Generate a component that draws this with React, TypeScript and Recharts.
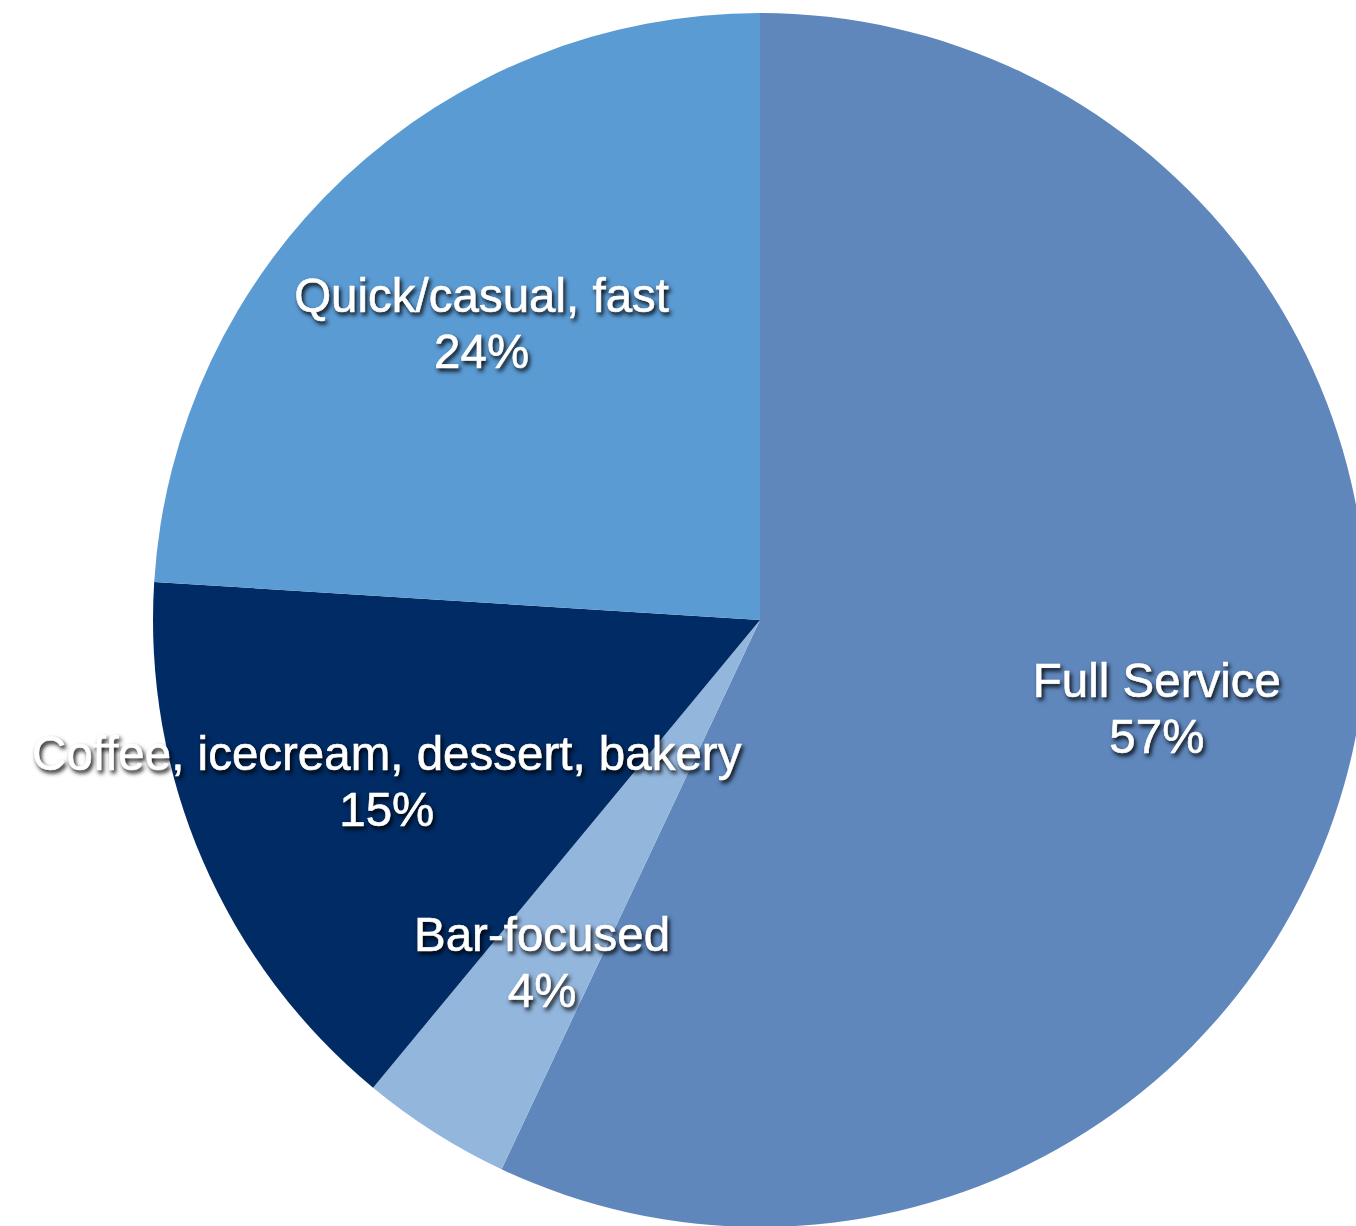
import { PieChart, Pie, Cell } from 'recharts'

const categories = ['Full Service', 'Bar-focused', 'Coffee, icecream, dessert, bakery', 'Quick/casual, fast']
const shares = [57, 4, 15, 24]
const colors = ['#5f87bc', '#93b6dd', '#002b64', '#5b9bd3']

const data = categories.map((name, i) => ({ name, value: shares[i] }))

const RADIAN = Math.PI / 180

function renderLabel(props: any) {
  const { cx, cy, midAngle, outerRadius, name, value } = props
  const r = outerRadius * 0.67
  const x = cx + r * Math.cos(-midAngle * RADIAN)
  const y = cy + r * Math.sin(-midAngle * RADIAN)
  const textStyle = {
    fontFamily: '"Liberation Sans", Arial, Helvetica, sans-serif',
    fontSize: 47.5,
    fill: '#ffffff',
    stroke: '#ffffff',
    strokeWidth: 0.6,
    filter: 'drop-shadow(2px 3px 2px rgba(0,0,0,0.9))',
  }
  return (
    <g>
      <text x={x} y={y - 12} textAnchor="middle" style={textStyle}>
        {name}
      </text>
      <text x={x} y={y + 44} textAnchor="middle" style={textStyle}>
        {`${value}%`}
      </text>
    </g>
  )
}

export default function App() {
  return (
    <div style={{ position: 'fixed', top: 0, left: 0, width: 1356, height: 1226, background: '#fff', overflow: 'hidden' }}>
      <PieChart width={1356} height={1226} margin={{ top: 0, right: 0, bottom: 0, left: 0 }}>
        <Pie
          data={data}
          dataKey="value"
          nameKey="name"
          cx={760}
          cy={620}
          outerRadius={607}
          startAngle={90}
          endAngle={-270}
          stroke="none"
          label={renderLabel}
          labelLine={false}
          isAnimationActive={false}
        >
          {data.map((d, i) => (
            <Cell key={d.name} fill={colors[i]} />
          ))}
        </Pie>
      </PieChart>
    </div>
  )
}
